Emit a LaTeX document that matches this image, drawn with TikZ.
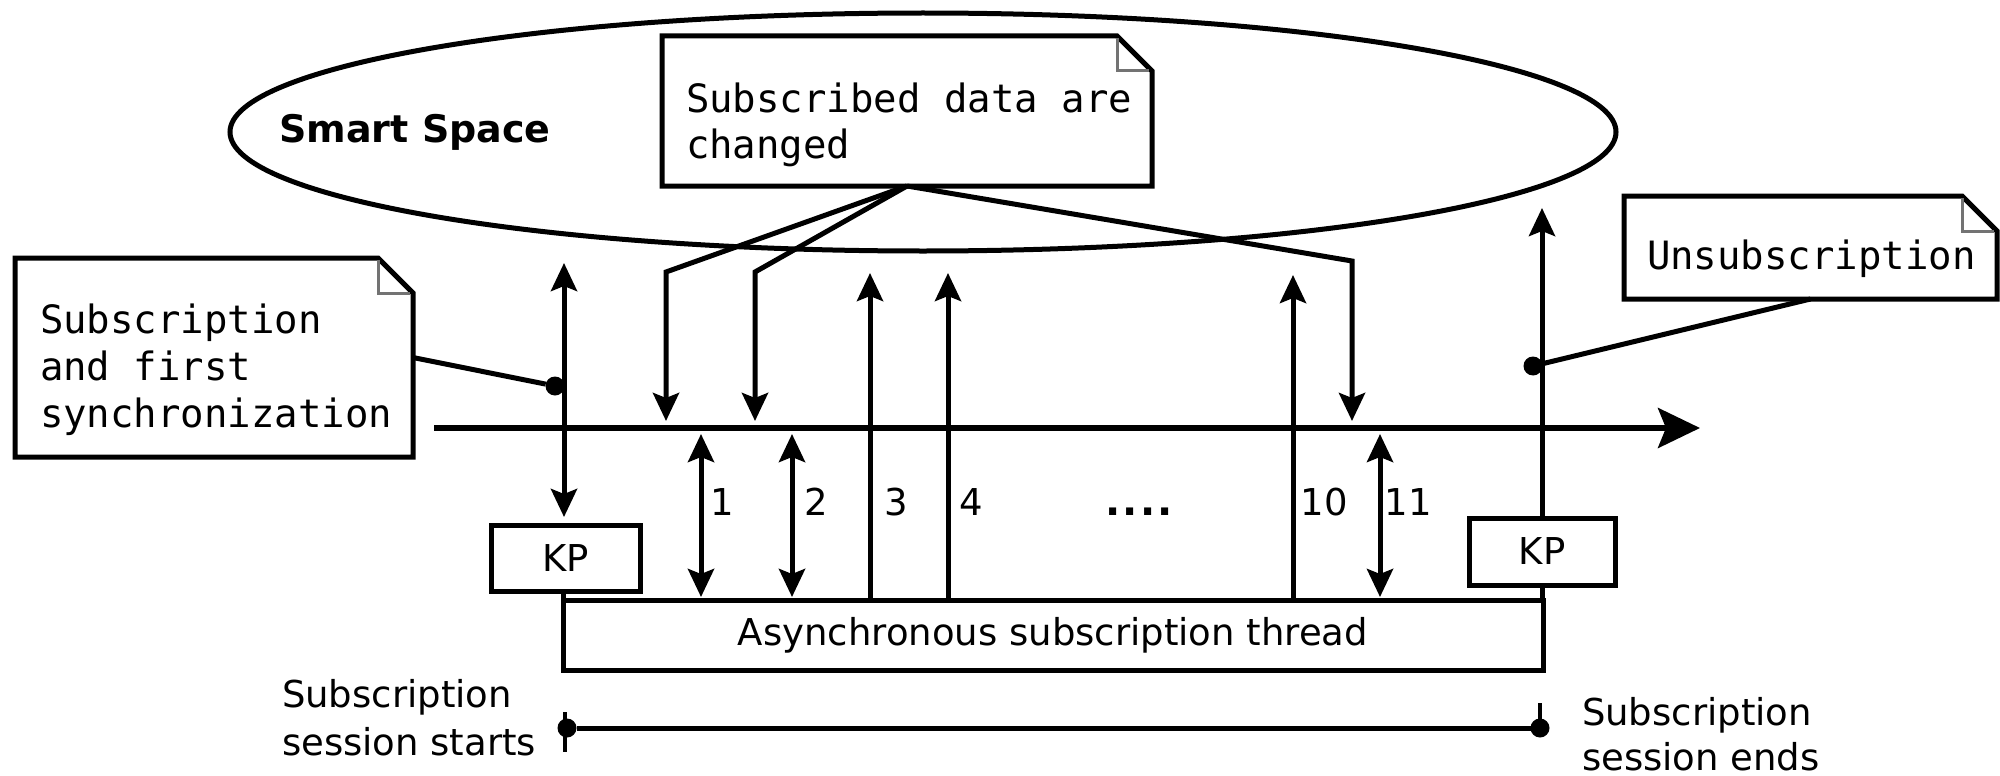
\documentclass[tikz,border=0pt]{standalone}
\usepackage{fontspec}
\setmainfont{DejaVu Sans}
\newfontfamily\monofont{DejaVu Sans Mono}
\usetikzlibrary{arrows.meta,shapes.geometric}
\newcommand\mynote[1]{%
  \draw[line width=5pt,line join=miter] (#1.north west) -- ([xshift=-35pt]#1.north east) -- ([yshift=-35pt]#1.north east) -- (#1.south east) -- (#1.south west) -- cycle;
  \draw[line width=3pt,black!55] ([xshift=-35pt,yshift=-2pt]#1.north east) -- ([xshift=-35pt,yshift=-35pt]#1.north east) -- ([xshift=-3pt,yshift=-35pt]#1.north east);}
\begin{document}
\begin{tikzpicture}[x=1pt,y=-1pt,
  every node/.style={inner sep=0pt,outer sep=0pt},
  ln/.style={line width=5pt},
  arr/.style={ln,-{Stealth[length=28pt,width=26pt,inset=5pt]}},
  darr/.style={ln,{Stealth[length=28pt,width=26pt,inset=5pt]}-{Stealth[length=28pt,width=26pt,inset=5pt]}},
  boxnode/.style={draw,line width=5pt,rectangle,font=\fontsize{37}{46}\selectfont},
  frame/.style={rectangle},
  sans/.style={font=\fontsize{37}{46}\selectfont},
  mono/.style={font=\monofont\fontsize{39}{46}\selectfont,align=left,anchor=north west},
  dotnode/.style={circle,fill,minimum size=19pt},
]
\useasboundingbox (0,0) rectangle (2000,776);
\fill[white] (0,0) rectangle (2000,776);

% Smart space ellipse
\node[draw,ellipse,line width=5pt,minimum width=1386pt,minimum height=238pt] (ss) at (923,132) {};
\node[font=\bfseries\fontsize{38}{46}\selectfont] (sslabel) at (415,132) {Smart Space};

% notes
\node[frame,minimum width=490pt,minimum height=150pt] (n1) at (907,111) {};
\mynote{n1}
\node[mono] (n1t) at (686,82.5) {Subscribed data are\\changed};

\node[frame,minimum width=398pt,minimum height=199pt] (n2) at (214,357.5) {};
\mynote{n2}
\node[mono,font=\monofont\fontsize{39}{47}\selectfont] (n2t) at (40,303.5) {Subscription\\and first\\synchronization};

\node[frame,minimum width=373pt,minimum height=103pt] (n3) at (1810.5,247.5) {};
\mynote{n3}
\node[mono] (n3t) at (1647,239.5) {Unsubscription};

% KP boxes and thread
\node[boxnode,minimum width=149pt,minimum height=66pt] (kp1) at (565.5,558) {KP};
\node[boxnode,minimum width=146pt,minimum height=67pt] (kp2) at (1542,551.5) {KP};
\node[boxnode,minimum width=980pt,minimum height=70pt] (thr) at (1053,635) {Asynchronous subscription thread};
\draw[ln] (kp1.south -| thr.west) -- (thr.north west);
\draw[ln] (kp2.south) -- (kp2.south |- thr.north);

% timeline
\coordinate (tl0) at (434,428);
\coordinate (tl1) at (1700,428);
\draw[line width=5.5pt,-{Stealth[length=42pt,width=40pt,inset=8pt]}] (tl0) -- (tl1);

% subscription arrow
\coordinate (a0t) at (564,263);
\coordinate (a0b) at (564,517);
\draw[darr] (a0t) -- (a0b);
\node[dotnode] (dl) at (555,386) {};
\draw[ln] (n2.east) -- (dl);

% unsubscription arrow
\coordinate (ua) at (1540,208);
\draw[arr] (kp2.north) -- (kp2.north |- ua);
\node[dotnode] (dr) at (1533,366) {};
\draw[ln] (dr) -- (n3.south);

% changes from note 1
\coordinate (b1) at (666,272); \coordinate (c1) at (666,421);
\coordinate (b2) at (755,272); \coordinate (c2) at (755,421);
\coordinate (b3) at (1352,261); \coordinate (c3) at (1352,421);
\draw[arr] (n1.south) -- (b1) -- (c1);
\draw[arr] (n1.south) -- (b2) -- (c2);
\draw[arr] (n1.south) -- (b3) -- (c3);

% numbered notifications
\coordinate (p1t) at (701,434); \coordinate (p1b) at (701,597);
\coordinate (p2t) at (792,434); \coordinate (p2b) at (792,597);
\coordinate (p11t) at (1380,434); \coordinate (p11b) at (1380,597);
\draw[darr] (p1t) -- (p1b);
\draw[darr] (p2t) -- (p2b);
\draw[darr] (p11t) -- (p11b);
\coordinate (p3) at (870,273);
\coordinate (p4) at (948,273);
\coordinate (p10) at (1293,275);
\draw[arr] (thr.north -| p3) -- (p3);
\draw[arr] (thr.north -| p4) -- (p4);
\draw[arr] (thr.north -| p10) -- (p10);

\node[sans,anchor=base] (l1) at (722,515) {1};
\node[sans,anchor=base] (l2) at (816,515) {2};
\node[sans,anchor=base] (l3) at (896,515) {3};
\node[sans,anchor=base] (l4) at (971,515) {4};
\node[sans,font=\bfseries\fontsize{40}{46}\selectfont,anchor=base] (ldots) at (1139,515) {.\kern2pt.\kern2pt.\kern2pt.};
\node[sans,anchor=base] (l10) at (1324,515) {10};
\node[sans,anchor=base] (l11) at (1408,515) {11};

% session line
\node[dotnode] (sl) at (567,728) {};
\node[dotnode] (sr) at (1540,728) {};
\coordinate (slt) at (565,712); \coordinate (slb) at (565,752);
\coordinate (srt) at (1540,703);
\draw[line width=4pt] (slt) -- (slb);
\draw[line width=4pt] (srt) -- (sr.center);
\draw[ln] (sl) -- (sr);
\node[sans,font=\fontsize{37}{48}\selectfont,align=left,anchor=north west] (lst) at (282,679) {Subscription\\session starts};
\node[sans,font=\fontsize{37}{45}\selectfont,align=left,anchor=north west] (len) at (1582,697) {Subscription\\session ends};
\end{tikzpicture}
\end{document}
